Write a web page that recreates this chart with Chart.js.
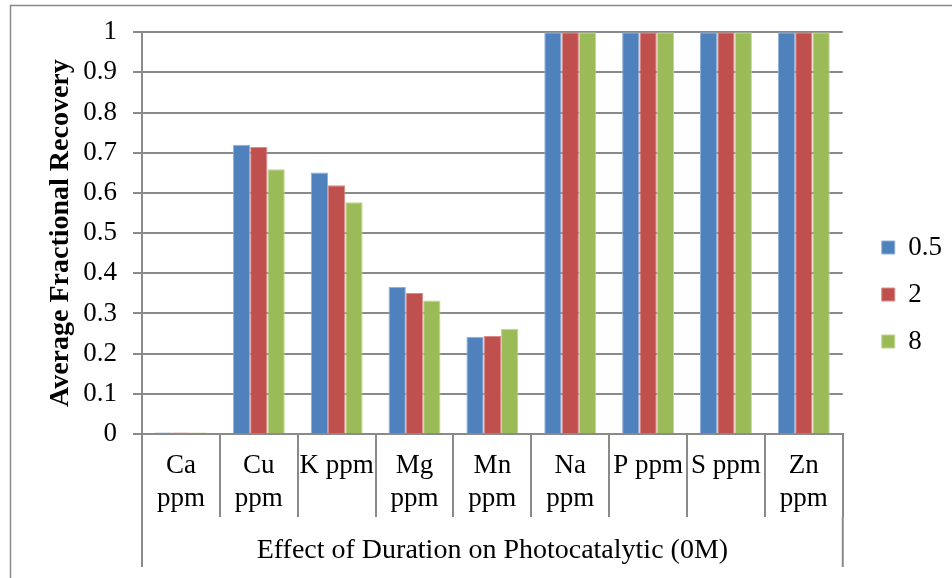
<!DOCTYPE html>
<html>
<head>
<meta charset="utf-8">
<script src="https://cdn.jsdelivr.net/npm/chart.js@4.4.1/dist/chart.umd.min.js"></script>
<style>
  html, body { margin: 0; padding: 0; background: #ffffff; }
  #c { display: block; }
</style>
</head>
<body>
<canvas id="c" width="952" height="578"></canvas>
<script>
const categories = [['Ca', 'ppm'], ['Cu', 'ppm'], ['K ppm'], ['Mg', 'ppm'], ['Mn', 'ppm'], ['Na', 'ppm'], ['P ppm'], ['S ppm'], ['Zn', 'ppm']];
const seriesNames = ['0.5', '2', '8'];
const values05 = [0.004, 0.720, 0.651, 0.366, 0.242, 1, 1, 1, 1];
const values2  = [0.004, 0.714, 0.619, 0.351, 0.244, 1, 1, 1, 1];
const values8  = [0.004, 0.659, 0.577, 0.332, 0.262, 1, 1, 1, 1];
const groupLabel = 'Effect of Duration on Photocatalytic (0M)';
const yTitle = 'Average Fractional Recovery';

const FONT = "'Liberation Serif', 'Times New Roman', serif";
const GRID = '#8a8a8a';

const framePlugin = {
  id: 'frame',
  beforeDraw(chart) {
    const ctx = chart.ctx;
    ctx.save();
    ctx.strokeStyle = GRID;
    ctx.lineWidth = 1.5;
    ctx.beginPath();
    ctx.moveTo(10.5, 600);
    ctx.lineTo(10.5, 5.5);
    ctx.lineTo(960, 5.5);
    ctx.stroke();
    ctx.restore();
  },
  afterDraw(chart) {
    const ctx = chart.ctx;
    const xs = chart.scales.x;
    const y0 = xs.top + 83;
    ctx.save();
    ctx.strokeStyle = GRID;
    ctx.lineWidth = 2;
    ctx.beginPath();
    [xs.left, xs.right].forEach(px => {
      ctx.moveTo(px, y0);
      ctx.lineTo(px, 567);
    });
    ctx.stroke();
    ctx.restore();
  }
};

new Chart(document.getElementById('c'), {
  type: 'bar',
  data: {
    labels: categories,
    datasets: [
      { label: seriesNames[0], data: values05, backgroundColor: '#4F81BD', borderColor: '#8fb0d8', borderWidth: 1 },
      { label: seriesNames[1], data: values2,  backgroundColor: '#C0504D', borderColor: '#d88b89', borderWidth: 1 },
      { label: seriesNames[2], data: values8,  backgroundColor: '#9BBB59', borderColor: '#c0d68f', borderWidth: 1 }
    ]
  },
  options: {
    responsive: false,
    animation: false,
    devicePixelRatio: 1,
    categoryPercentage: 0.667,
    barPercentage: 1.0,
    layout: { padding: { left: 0, right: 0, top: 28, bottom: 17 } },
    plugins: {
      legend: {
        position: 'right',
        align: 'center',
        labels: {
          boxWidth: 13,
          boxHeight: 13,
          padding: 20,
          color: '#000',
          font: { family: FONT, size: 27 }
        }
      },
      tooltip: { enabled: false }
    },
    scales: {
      x: {
        offset: true,
        grid: { display: true, drawOnChartArea: false, drawTicks: true, tickLength: 83, offset: true, color: GRID, lineWidth: 2 },
        border: { display: true, color: GRID, width: 2 },
        ticks: { color: '#000', font: { family: FONT, size: 27, lineHeight: 1.222 }, padding: -67.5, maxRotation: 0, autoSkip: false },
        title: { display: true, text: groupLabel, color: '#000', font: { family: FONT, size: 28 }, padding: { top: 0, bottom: -6 } },
        afterFit(scale) { scale.height = 127; }
      },
      y: {
        min: 0,
        max: 1,
        ticks: {
          stepSize: 0.1,
          color: '#000',
          padding: 16,
          font: { family: FONT, size: 27 },
          callback: v => Number(v.toFixed(1)).toString()
        },
        grid: { color: GRID, lineWidth: 2, tickLength: 9 },
        border: { display: true, color: GRID, width: 2 },
        title: { display: true, text: yTitle, color: '#000', font: { family: FONT, size: 28, weight: 'bold' }, padding: { top: 44, bottom: 0 } },
        afterFit(scale) { scale.width = 142; }
      },
      gap: {
        type: 'linear',
        position: 'right',
        display: true,
        grid: { display: false, drawOnChartArea: false },
        border: { display: false },
        ticks: { display: false },
        afterFit(scale) { scale.width = 19; }
      }
    }
  },
  plugins: [framePlugin]
});
</script>
</body>
</html>
